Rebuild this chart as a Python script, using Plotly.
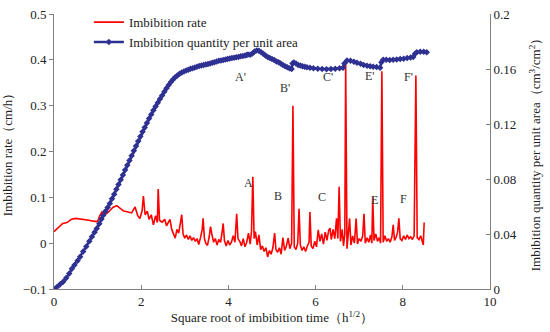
import plotly.graph_objects as go

# Imbibition rate (left axis, cm/h)
rate_x = [0.00, 0.10, 0.20, 0.30, 0.40, 0.50, 0.60, 0.70, 0.80, 0.90, 1.00, 1.05, 1.10, 1.17, 1.25,
          1.35, 1.44, 1.52, 1.60, 1.70, 1.78, 1.86, 1.92, 1.97, 2.02, 2.05, 2.09, 2.14, 2.18, 2.23,
          2.28, 2.33, 2.37, 2.39, 2.42, 2.48, 2.54, 2.58, 2.62, 2.66, 2.70, 2.74, 2.78, 2.82, 2.86,
          2.90, 2.93, 2.96, 3.00, 3.04, 3.08, 3.12, 3.16, 3.20, 3.24, 3.28, 3.32, 3.36, 3.40, 3.42,
          3.45, 3.48, 3.52, 3.56, 3.59, 3.62, 3.66, 3.70, 3.74, 3.78, 3.82, 3.85, 3.88, 3.91, 3.95,
          3.99, 4.03, 4.07, 4.11, 4.15, 4.19, 4.22, 4.26, 4.30, 4.34, 4.38, 4.42, 4.46, 4.50, 4.53,
          4.56, 4.59, 4.62, 4.66, 4.70, 4.74, 4.78, 4.82, 4.86, 4.90, 4.94, 4.98, 5.02, 5.06, 5.09,
          5.13, 5.17, 5.21, 5.25, 5.29, 5.33, 5.37, 5.41, 5.45, 5.48, 5.51, 5.55, 5.59, 5.62, 5.65,
          5.69, 5.73, 5.77, 5.81, 5.85, 5.87, 5.90, 5.94, 5.98, 6.02, 6.06, 6.10, 6.14, 6.18, 6.22,
          6.26, 6.30, 6.33, 6.36, 6.40, 6.44, 6.48, 6.51, 6.54, 6.57, 6.61, 6.64, 6.67, 6.69, 6.72,
          6.75, 6.78, 6.81, 6.85, 6.89, 6.93, 6.96, 7.00, 7.04, 7.08, 7.11, 7.14, 7.18, 7.22, 7.26,
          7.29, 7.31, 7.34, 7.38, 7.42, 7.46, 7.49, 7.52, 7.55, 7.59, 7.63, 7.67, 7.71, 7.75, 7.78,
          7.81, 7.85, 7.88, 7.91, 7.94, 7.98, 8.02, 8.06, 8.10, 8.14, 8.18, 8.22, 8.26, 8.30, 8.33,
          8.37, 8.41, 8.45, 8.47, 8.49]
rate_y = [0.025, 0.033, 0.043, 0.045, 0.052, 0.054, 0.053, 0.051, 0.050, 0.048, 0.047, 0.060, 0.068, 0.062, 0.068,
          0.078, 0.082, 0.076, 0.070, 0.068, 0.066, 0.079, 0.060, 0.054, 0.070, 0.103, 0.062, 0.070, 0.052, 0.062,
          0.040, 0.060, 0.045, 0.118, 0.050, 0.046, 0.052, 0.038, 0.045, 0.052, 0.030, 0.018, 0.011, 0.030, 0.022,
          0.045, 0.062, 0.020, 0.011, 0.018, 0.008, 0.016, 0.006, 0.012, 0.004, 0.010, -0.003, 0.012, 0.030, 0.054,
          0.010, 0.000, -0.005, 0.014, 0.036, 0.020, 0.002, 0.010, -0.004, 0.008, 0.002, 0.020, 0.043, 0.005, -0.006,
          0.006, -0.004, 0.002, 0.016, 0.002, 0.064, 0.010, 0.004, -0.006, 0.010, -0.008, 0.002, 0.022, -0.002, 0.026,
          0.145, 0.010, 0.025, -0.004, 0.018, -0.014, -0.006, -0.018, -0.010, -0.030, -0.016, -0.024, -0.010, 0.022, -0.014,
          -0.020, -0.010, -0.024, 0.012, -0.016, -0.006, 0.011, -0.012, 0.000, 0.300, -0.008, -0.014, 0.000, 0.075, -0.004,
          -0.016, -0.008, -0.018, -0.006, 0.002, 0.068, -0.006, -0.012, 0.004, -0.008, 0.029, 0.004, 0.020, -0.002, 0.024,
          0.006, 0.028, 0.033, 0.008, 0.030, 0.010, 0.054, 0.010, 0.123, 0.004, 0.030, -0.006, 0.020, 0.390, -0.012,
          0.030, 0.054, -0.004, 0.016, 0.000, 0.054, -0.002, 0.010, 0.004, 0.016, 0.064, 0.000, 0.012, 0.002, 0.018,
          0.000, 0.100, 0.006, 0.020, 0.004, 0.012, 0.000, 0.375, 0.002, 0.016, 0.004, 0.010, 0.002, 0.014, 0.040,
          0.006, 0.014, 0.024, 0.054, 0.010, 0.006, 0.016, 0.008, 0.018, 0.010, 0.014, 0.008, 0.016, 0.366, 0.012,
          0.008, 0.016, 0.002, -0.004, 0.045]

# Imbibition quantity per unit area (right axis, cm3/cm2)
qty_x = [0.00, 0.07, 0.14, 0.21, 0.28, 0.35, 0.41, 0.47, 0.54, 0.60, 0.67, 0.74, 0.81, 0.87, 0.93,
         0.98, 1.04, 1.09, 1.13, 1.18, 1.23, 1.28, 1.33, 1.38, 1.43, 1.48, 1.53, 1.58, 1.63, 1.68,
         1.73, 1.78, 1.83, 1.88, 1.93, 1.98, 2.03, 2.08, 2.13, 2.18, 2.23, 2.28, 2.33, 2.38, 2.43,
         2.48, 2.53, 2.58, 2.63, 2.68, 2.73, 2.78, 2.83, 2.88, 2.93, 2.98, 3.03, 3.08, 3.13, 3.18,
         3.23, 3.28, 3.33, 3.38, 3.43, 3.48, 3.53, 3.58, 3.63, 3.68, 3.73, 3.78, 3.83, 3.88, 3.93,
         3.98, 4.03, 4.08, 4.13, 4.18, 4.23, 4.28, 4.33, 4.38, 4.42, 4.45, 4.50, 4.55, 4.60, 4.65,
         4.70, 4.75, 4.80, 4.85, 4.90, 4.95, 5.00, 5.05, 5.10, 5.15, 5.20, 5.25, 5.30, 5.35, 5.40,
         5.45, 5.47, 5.50, 5.55, 5.60, 5.65, 5.70, 5.75, 5.80, 5.87, 5.95, 6.05, 6.15, 6.25, 6.35,
         6.45, 6.55, 6.63, 6.66, 6.72, 6.80, 6.88, 6.95, 7.03, 7.10, 7.18, 7.25, 7.32, 7.40, 7.48,
         7.51, 7.55, 7.62, 7.70, 7.78, 7.86, 7.94, 8.02, 8.10, 8.18, 8.24, 8.28, 8.32, 8.40, 8.48,
         8.55]
qty_y = [0.0000, 0.0015, 0.0035, 0.0052, 0.0080, 0.0112, 0.0147, 0.0175, 0.0205, 0.0234, 0.0272, 0.0310, 0.0347, 0.0380, 0.0412,
         0.0440, 0.0475, 0.0510, 0.0537, 0.0565, 0.0592, 0.0622, 0.0656, 0.0690, 0.0725, 0.0760, 0.0795, 0.0830, 0.0865, 0.0900,
         0.0935, 0.0970, 0.1005, 0.1040, 0.1075, 0.1110, 0.1143, 0.1175, 0.1208, 0.1240, 0.1270, 0.1300, 0.1328, 0.1355, 0.1382,
         0.1408, 0.1434, 0.1460, 0.1483, 0.1505, 0.1523, 0.1540, 0.1553, 0.1565, 0.1574, 0.1582, 0.1589, 0.1595, 0.1601, 0.1606,
         0.1611, 0.1616, 0.1621, 0.1625, 0.1629, 0.1633, 0.1637, 0.1640, 0.1645, 0.1650, 0.1655, 0.1660, 0.1662, 0.1665, 0.1669,
         0.1672, 0.1676, 0.1680, 0.1682, 0.1685, 0.1688, 0.1692, 0.1695, 0.1698, 0.1702, 0.1705, 0.1703, 0.1712, 0.1728, 0.1735,
         0.1732, 0.1722, 0.1710, 0.1698, 0.1688, 0.1680, 0.1672, 0.1665, 0.1655, 0.1650, 0.1640, 0.1630, 0.1620, 0.1612, 0.1605,
         0.1600, 0.1640, 0.1648, 0.1640, 0.1630, 0.1625, 0.1620, 0.1617, 0.1613, 0.1610, 0.1605, 0.1602, 0.1600, 0.1598, 0.1600,
         0.1601, 0.1605, 0.1610, 0.1640, 0.1662, 0.1660, 0.1652, 0.1645, 0.1638, 0.1630, 0.1624, 0.1620, 0.1617, 0.1615, 0.1610,
         0.1650, 0.1668, 0.1668, 0.1665, 0.1668, 0.1670, 0.1672, 0.1675, 0.1680, 0.1684, 0.1688, 0.1710, 0.1722, 0.1725, 0.1725,
         0.1722]

# Point labels
rate_labels = ["A", "B", "C", "E", "F"]
rate_label_x = [4.46, 5.14, 6.14, 7.34, 8.01]
rate_label_y = [0.132, 0.104, 0.100, 0.095, 0.096]
qty_labels = ["A'", "B'", "C'", "E'", "F'"]
qty_label_x = [4.27, 5.30, 6.29, 7.25, 8.13]
qty_label_y = [0.362, 0.338, 0.362, 0.364, 0.362]

FONT = "Liberation Serif, Times New Roman, serif"
AXIS_COLOR = "#808080"
RED = "#FF0000"
BLUE = "#2E3192"

fig = go.Figure()
fig.add_trace(go.Scatter(
    x=rate_x, y=rate_y, mode="lines", name="Imbibition rate",
    line=dict(color=RED, width=1.6), yaxis="y"))
fig.add_trace(go.Scatter(
    x=qty_x, y=qty_y, mode="lines+markers", name="Imbibition quantity per unit area",
    line=dict(color=BLUE, width=2.5), marker=dict(symbol="diamond", size=5, color=BLUE),
    yaxis="y2"))

annotations = []
for t, x, y in zip(rate_labels + qty_labels, rate_label_x + qty_label_x, rate_label_y + qty_label_y):
    annotations.append(dict(x=x, y=y, xref="x", yref="y", text=t, showarrow=False,
                            font=dict(family=FONT, size=12, color="#333333")))

fig.update_layout(
    width=550, height=332,
    margin=dict(l=54, r=60, t=7, b=43),
    paper_bgcolor="white", plot_bgcolor="white",
    font=dict(family=FONT, size=13, color="#222222"),
    showlegend=True,
    legend=dict(x=0.080, y=1.025, xanchor="left", yanchor="top", bgcolor="rgba(0,0,0,0)",
                font=dict(family=FONT, size=13, color="#222222"), itemwidth=30,
                tracegroupgap=0),
    xaxis=dict(range=[0, 10], dtick=2, tick0=0, showgrid=False, zeroline=False,
               showline=True, linecolor=AXIS_COLOR, linewidth=1, automargin=False,
               ticks="inside", ticklen=4, tickcolor=AXIS_COLOR,
               tickfont=dict(family=FONT, size=13),
               title=dict(text="Square root of imbibition time（h<sup>1/2</sup>）",
                          font=dict(family=FONT, size=13), standoff=4)),
    yaxis=dict(range=[-0.1, 0.5], dtick=0.1, tick0=-0.1, showgrid=False, zeroline=False,
               showline=True, linecolor=AXIS_COLOR, linewidth=1, automargin=False,
               ticks="outside", ticklen=4, tickcolor=AXIS_COLOR,
               tickfont=dict(family=FONT, size=13),
               title=dict(text="Imbibition rate（cm/h）", font=dict(family=FONT, size=13))),
    yaxis2=dict(range=[0, 0.2], dtick=0.04, tick0=0, overlaying="y", side="right",
                showgrid=False, zeroline=False, automargin=False,
                showline=True, linecolor=AXIS_COLOR, linewidth=1,
                ticks="inside", ticklen=4, tickcolor=AXIS_COLOR,
                tickfont=dict(family=FONT, size=13),
                title=dict(text="Imbibition quantity per unit area（cm<sup>3</sup>/cm<sup>2</sup>）",
                           font=dict(family=FONT, size=13))),
    annotations=annotations,
)

fig.write_html("out.html", config={"displayModeBar": False},
               post_script="document.body.style.margin='0px';")
